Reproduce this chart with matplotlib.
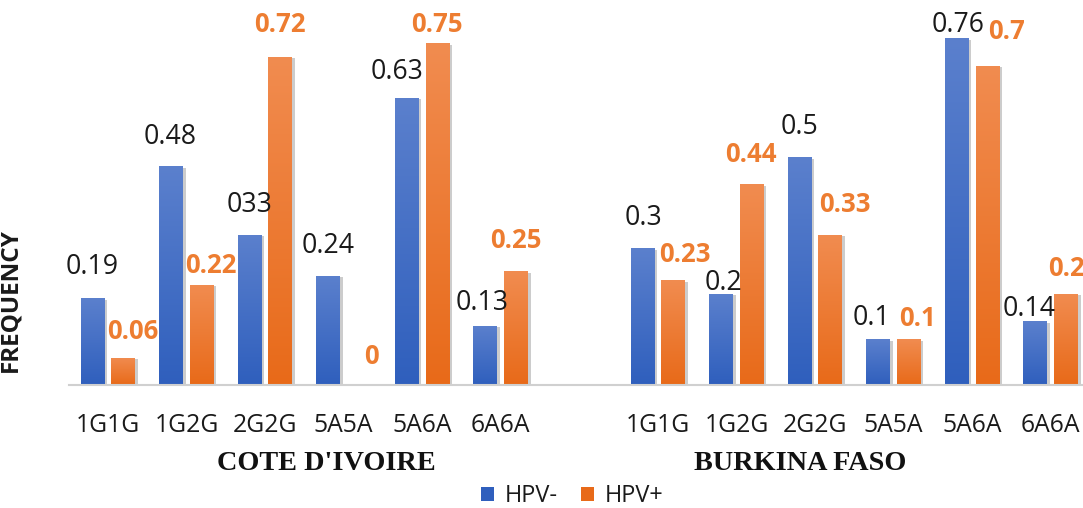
import numpy as np
import matplotlib
matplotlib.use("Agg")
import matplotlib.pyplot as plt
import matplotlib.transforms as mtransforms
from matplotlib.colors import LinearSegmentedColormap
from matplotlib.patches import Patch

# ---------------- data ----------------
categories = ["1G1G", "1G2G", "2G2G", "5A5A", "5A6A", "6A6A"]
groups = ["COTE D'IVOIRE", "BURKINA FASO"]
series = ["HPV-", "HPV+"]

ci_neg = [0.19, 0.48, 0.33, 0.24, 0.63, 0.13]
ci_pos = [0.06, 0.22, 0.72, 0.00, 0.75, 0.25]
bf_neg = [0.30, 0.20, 0.50, 0.10, 0.76, 0.14]
bf_pos = [0.23, 0.44, 0.33, 0.10, 0.70, 0.20]

ci_neg_labels = ["0.19", "0.48", "033", "0.24", "0.63", "0.13"]
ci_pos_labels = ["0.06", "0.22", "0.72", "0", "0.75", "0.25"]
bf_neg_labels = ["0.3", "0.2", "0.5", "0.1", "0.76", "0.14"]
bf_pos_labels = ["0.23", "0.44", "0.33", "0.1", "0.7", "0.2"]

# label nudges in pixels (dx, dy above bar top)
neg_offsets = [(0, 31), (-1, 29), (0, 30), (0, 30), (-10, 26), (-3, 23),
               (1, 30), (2, 11), (0, 30), (-7, 21), (1, 13), (-6, 12)]
pos_offsets = [(10, 26), (9, 19), (0, 32), (13, 29), (-1, 18), (0, 30),
               (12, 26), (-1, 30), (14, 30), (9, 21), (19, 34), (0, 25)]

# ---------------- style ----------------
BLUE_TOP, BLUE_BOT = "#5B80CD", "#2F5FBD"
ORNG_TOP, ORNG_BOT = "#F18C50", "#E86A19"
ORANGE_TXT = "#ED7D31"
SANS = ["Open Sans", "Lato", "DejaVu Sans"]
SERIF = ["Liberation Serif", "DejaVu Serif"]

W, H = 1083, 508
fig = plt.figure(figsize=(W / 100, H / 100), dpi=100)
fig.patch.set_facecolor("white")

ax_left, ax_bottom = 68.6 / W, (H - 385) / H
ax = fig.add_axes([ax_left, ax_bottom, 1 - ax_left, 364.8 / H])
ax.set_facecolor("none")

x_ci = np.arange(len(categories))
x_bf = np.arange(len(categories)) + len(categories) + 1
xs = np.concatenate([x_ci, x_bf])
neg_vals = ci_neg + bf_neg
pos_vals = ci_pos + bf_pos
neg_labels = ci_neg_labels + bf_neg_labels
pos_labels = ci_pos_labels + bf_pos_labels

bw = 0.305
off = 0.195

shadow_tr = mtransforms.offset_copy(ax.transData, fig=fig, x=2.5, y=-1.5, units="dots")


def grad_bars(xpos, vals, top, bot, zo):
    cmap = LinearSegmentedColormap.from_list("g", [bot, top])
    ax.bar(xpos, vals, bw, color="#000000", alpha=0.2, transform=shadow_tr,
           zorder=zo - 1, linewidth=0)
    bars = ax.bar(xpos, vals, bw, color=top, zorder=zo, linewidth=0)
    grad = np.linspace(0, 1, 256).reshape(-1, 1)
    for b in bars:
        h = b.get_height()
        if h <= 0:
            continue
        x0 = b.get_x()
        im = ax.imshow(grad, extent=(x0, x0 + b.get_width(), 0, h), origin="lower",
                       cmap=cmap, aspect="auto", zorder=zo + 0.5, interpolation="bicubic")
        im.set_clip_path(b)
    return bars


bars_neg = grad_bars(xs - off, neg_vals, BLUE_TOP, BLUE_BOT, 3)
bars_pos = grad_bars(xs + off, pos_vals, ORNG_TOP, ORNG_BOT, 3)
ax.set_xlim(-0.5, 12.41)
ax.set_ylim(0, 0.8)

neg_texts = []
for b, lab, (dx, dy) in zip(bars_neg, neg_labels, neg_offsets):
    neg_texts.append(ax.annotate(lab, (b.get_x() + b.get_width() / 2, b.get_height()),
                     xytext=(dx, dy), textcoords="offset pixels", ha="center", va="center",
                     fontsize=18, family=SANS, color="#1a1a1a", zorder=6,
                     annotation_clip=False))
pos_texts = []
for b, lab, (dx, dy) in zip(bars_pos, pos_labels, pos_offsets):
    pos_texts.append(ax.annotate(lab, (b.get_x() + b.get_width() / 2, b.get_height()),
                     xytext=(dx, dy), textcoords="offset pixels", ha="center", va="center",
                     fontsize=18, family=SANS, color=ORANGE_TXT, fontweight="bold",
                     zorder=6, annotation_clip=False))

# axes decoration
for s in ["top", "right", "left"]:
    ax.spines[s].set_visible(False)
ax.spines["bottom"].set_color("#D0D0D0")
ax.spines["bottom"].set_linewidth(1.5)
ax.spines["bottom"].set_zorder(10)
ax.set_yticks([])
ax.set_xticks(xs)
ax.set_xticklabels(categories * 2, fontsize=17.7, family=SANS, color="#1a1a1a")

ylab = ax.set_ylabel("FREQUENCY", fontsize=17.5, family=SANS, fontweight="bold",
                     color="#1a1a1a")
ax.yaxis.set_label_coords(22.3 / W, 1 - 300 / H, transform=fig.transFigure)

# group titles
t1 = fig.text(326 / W, 1 - 463 / H, groups[0], ha="center", va="center", fontsize=20.5,
              family=SERIF, fontweight="bold", color="#111111")
t2 = fig.text(800 / W, 1 - 463 / H, groups[1], ha="center", va="center", fontsize=20.5,
              family=SERIF, fontweight="bold", color="#111111")

# ---- size fitting to the reference's text widths (pixels) ----
fig.canvas.draw()
renderer = fig.canvas.get_renderer()


def fit_size(txt, target, use_height=False):
    for _ in range(4):
        bb = txt.get_window_extent(renderer)
        cur = bb.height if use_height else bb.width
        txt.set_fontsize(txt.get_fontsize() * target / cur)
    return txt.get_fontsize()


s_val = fit_size(neg_texts[0], 53)
for t in neg_texts:
    t.set_fontsize(s_val)
s_bold = fit_size(pos_texts[0], 52)
for t in pos_texts:
    t.set_fontsize(s_bold)

tick0 = ax.get_xticklabels()[0]
s_tick = fit_size(tick0, 64)
ax.tick_params(axis="x", length=0, labelsize=s_tick, pad=47 * 72 / 100)
for lbl in ax.get_xticklabels():
    lbl.set_verticalalignment("baseline")

fit_size(ylab, 144, use_height=True)
s_title = fit_size(t1, 218)
t2.set_fontsize(s_title)

probe = fig.text(0, 0, series[0], family=SANS, fontsize=16)
s_leg = fit_size(probe, 53)
probe.remove()

# legend
handles = [Patch(facecolor=BLUE_BOT, edgecolor="none", label=series[0]),
           Patch(facecolor=ORNG_BOT, edgecolor="none", label=series[1])]
leg = fig.legend(handles=handles, loc="center", bbox_to_anchor=(572 / W, 1 - 496 / H),
                 ncol=2, frameon=False, prop={"family": SANS, "size": s_leg},
                 handlelength=0.55, handleheight=0.55, handletextpad=0.45,
                 columnspacing=1.0, borderpad=0)
for t in leg.get_texts():
    t.set_color("#1a1a1a")

fig.savefig("out.png", dpi=100, facecolor="white")
